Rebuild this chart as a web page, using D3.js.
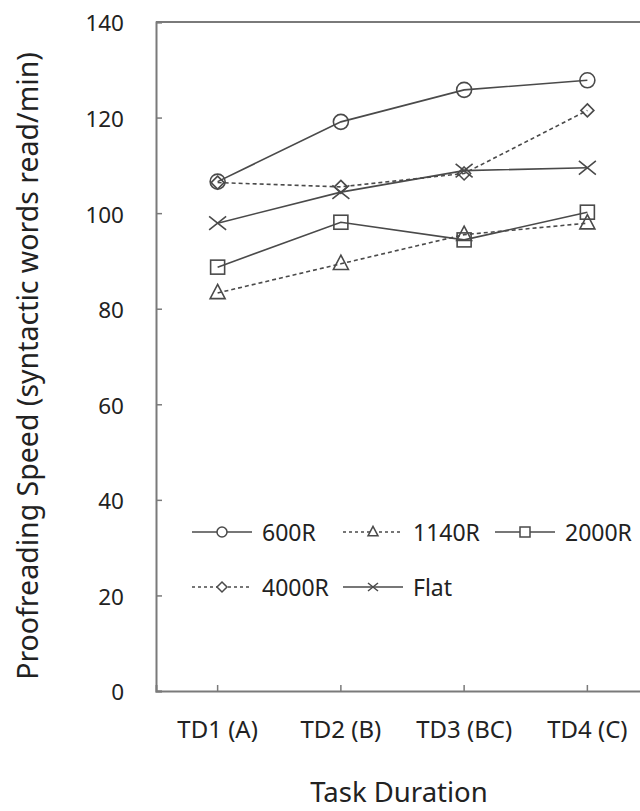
<!DOCTYPE html>
<html>
<head>
<meta charset="utf-8">
<script src="https://cdn.jsdelivr.net/npm/d3@7"></script>
<style>
  body { margin: 0; background: white; }
  text { font-family: "Noto Sans", "Open Sans", sans-serif; fill: #222; }
</style>
</head>
<body>
<div class="graph-container"></div>
<script>
// data
var categories = ["TD1 (A)", "TD2 (B)", "TD3 (BC)", "TD4 (C)"];
var yTicks = [0, 20, 40, 60, 80, 100, 120, 140];
var seriesNames = ["600R", "1140R", "2000R", "4000R", "Flat"];
var v600R  = [106.6, 119.1, 125.8, 127.8];
var v1140R = [83.3, 89.4, 95.5, 97.9];
var v2000R = [88.7, 98.1, 94.4, 100.2];
var v4000R = [106.4, 105.5, 108.3, 121.5];
var vFlat  = [97.9, 104.4, 108.9, 109.5];

var seriesValues = [v600R, v1140R, v2000R, v4000R, vFlat];
var seriesDash = [null, "4,3", null, "4,3", null];
var seriesMarker = ["circle", "triangle", "square", "diamond", "cross"];

var width = 640, height = 811;
var margin = { top: 22, left: 156, bottom: 120, right: -9 };

var svg = d3.select(".graph-container").append("svg")
    .attr("width", width)
    .attr("height", height);

var x = d3.scaleBand()
    .domain(categories)
    .range([margin.left, width - margin.right])
    .padding(0);

var y = d3.scaleLinear()
    .domain([0, 140])
    .range([height - margin.bottom, margin.top]);

var axisColor = "#7a7a7a";
var lineColor = "#4a4a4a";

// frame top line
svg.append("line")
    .attr("x1", margin.left).attr("x2", width)
    .attr("y1", y(140)).attr("y2", y(140))
    .attr("stroke", axisColor).attr("stroke-width", 2);

// y axis
var yAxis = d3.axisRight(y).tickValues(yTicks).tickSize(6).tickFormat("");
var yAxisGroup = svg.append("g")
    .attr("transform", "translate(" + margin.left + ",0)")
    .call(yAxis);
yAxisGroup.select(".domain").attr("stroke", axisColor).attr("stroke-width", 2);
yAxisGroup.selectAll(".tick line").attr("stroke", axisColor).attr("stroke-width", 1.5);

svg.append("g").selectAll("text")
    .data(yTicks)
    .enter()
    .append("text")
    .attr("x", margin.left - 32)
    .attr("y", d => y(d))
    .attr("dy", "0.42em")
    .attr("text-anchor", "end")
    .style("font-size", "22.5px")
    .text(d => d);

// x axis
var xAxis = d3.axisTop(x).tickSize(6).tickFormat("");
var xAxisGroup = svg.append("g")
    .attr("transform", "translate(0," + y(0) + ")")
    .call(xAxis);
xAxisGroup.select(".domain").attr("stroke", axisColor).attr("stroke-width", 2);
xAxisGroup.selectAll(".tick line").attr("stroke", axisColor).attr("stroke-width", 1.5);

svg.append("g").selectAll("text")
    .data(categories)
    .enter()
    .append("text")
    .attr("x", d => x(d) + x.bandwidth() / 2)
    .attr("y", 738)
    .attr("text-anchor", "middle")
    .style("font-size", "24px")
    .text(d => d);

// axis titles
svg.append("text")
    .attr("x", 399)
    .attr("y", 802)
    .attr("text-anchor", "middle")
    .style("font-size", "27.5px")
    .text("Task Duration");

svg.append("text")
    .attr("transform", "translate(38,366) rotate(-90)")
    .attr("text-anchor", "middle")
    .style("font-size", "28.5px")
    .text("Proofreading Speed (syntactic words read/min)");

// marker drawing
function drawMarker(g, type, cx, cy, s) {
    if (type == "circle") {
        g.append("circle").attr("cx", cx).attr("cy", cy).attr("r", s / 2);
    } else if (type == "square") {
        g.append("rect").attr("x", cx - s / 2).attr("y", cy - s / 2).attr("width", s).attr("height", s);
    } else if (type == "triangle") {
        var h = s * 0.95;
        g.append("path").attr("d", "M" + cx + "," + (cy - h * 0.6) + "L" + (cx + s / 2) + "," + (cy + h * 0.4) + "L" + (cx - s / 2) + "," + (cy + h * 0.4) + "Z");
    } else if (type == "diamond") {
        var d = s / 2;
        g.append("path").attr("d", "M" + cx + "," + (cy - d) + "L" + (cx + d) + "," + cy + "L" + cx + "," + (cy + d) + "L" + (cx - d) + "," + cy + "Z");
    } else if (type == "cross") {
        var c = s / 2;
        g.append("path").attr("d", "M" + (cx - c) + "," + (cy - c * 0.8) + "L" + (cx + c) + "," + (cy + c * 0.8) + "M" + (cx - c) + "," + (cy + c * 0.8) + "L" + (cx + c) + "," + (cy - c * 0.8));
    }
}

var markerSize = { circle: 15, square: 14, triangle: 15, diamond: 13, cross: 17 };

var line = d3.line()
    .x((d, i) => x(categories[i]) + x.bandwidth() / 2)
    .y(d => y(d));

seriesValues.forEach((vals, k) => {
    var g = svg.append("g")
        .attr("fill", "none")
        .attr("stroke", lineColor)
        .attr("stroke-width", 1.6);
    g.append("path")
        .attr("d", line(vals))
        .attr("stroke-dasharray", seriesDash[k]);
    vals.forEach((v, i) => {
        drawMarker(g, seriesMarker[k], x(categories[i]) + x.bandwidth() / 2, y(v), markerSize[seriesMarker[k]]);
    });
});

// legend
var legendPos = [
    { x: 192, y: 532 }, { x: 343, y: 532 }, { x: 495, y: 532 },
    { x: 192, y: 587 }, { x: 343, y: 587 }
];
seriesNames.forEach((name, k) => {
    var p = legendPos[k];
    var g = svg.append("g")
        .attr("fill", "none")
        .attr("stroke", lineColor)
        .attr("stroke-width", 1.5);
    g.append("line")
        .attr("x1", p.x).attr("x2", p.x + 60)
        .attr("y1", p.y).attr("y2", p.y)
        .attr("stroke-dasharray", seriesDash[k] ? "3,3" : null);
    var lg = svg.append("g").attr("fill", "white").attr("stroke", lineColor).attr("stroke-width", 1.5);
    drawMarker(lg, seriesMarker[k], p.x + 30, p.y, 10);
    svg.append("text")
        .attr("x", p.x + 70)
        .attr("y", p.y)
        .attr("dy", "0.38em")
        .style("font-size", "23px")
        .text(name);
});
</script>
</body>
</html>
